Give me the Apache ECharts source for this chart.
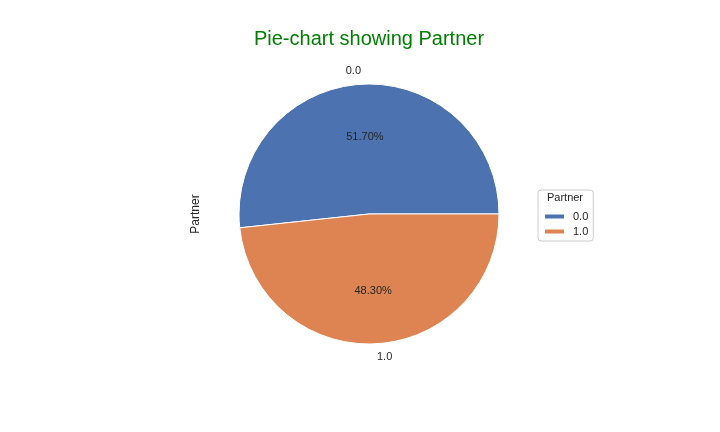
<!DOCTYPE html>
<html><head><meta charset="utf-8">
<script src="https://cdn.jsdelivr.net/npm/echarts@6/dist/echarts.min.js"></script>
<style>html,body{margin:0;padding:0;background:#fff}#c{width:720px;height:432px}</style>
</head><body><div id="c"></div>
<script>
const categories = ['0.0', '1.0'];
const counts = [3641, 3402];
const colors = ['#4c72b0', '#dd8452'];
const titleText = 'Pie-chart showing Partner';
const legendTitle = 'Partner';
const axisLabel = 'Partner';

const total = counts.reduce((a, b) => a + b, 0);
const FONT = 'Liberation Sans, Arial, sans-serif';
const C = [369, 214], R = 130;

const mainData = categories.map((c, i) => ({ name: c, value: counts[i], itemStyle: { color: colors[i] } }));
const ghost = categories.map((c, i) => ({
  name: c, value: counts[i], itemStyle: { color: 'transparent' },
  label: { padding: i === 0 ? [3, 0, 0, 0] : [7, 0, 0, 0] }
}));
const outerData = categories.map((c, i) => ({
  name: c, value: counts[i], itemStyle: { color: 'transparent' },
  label: { padding: i === 0 ? [3, 16, 0, 0] : [6, 0, 0, 16] }
}));

const chart = echarts.init(document.getElementById('c'));
chart.setOption({
  animation: false,
  backgroundColor: '#fff',
  legend: {
    orient: 'vertical', left: 538, top: 190,
    data: categories,
    padding: [21, 5, 4, 5], itemGap: 4,
    itemWidth: 21, itemHeight: 6, icon: 'rect',
    borderColor: '#cccccc', borderWidth: 1, borderRadius: 3,
    backgroundColor: '#fff',
    textStyle: { fontSize: 11, color: '#262626', fontFamily: FONT, padding: [0, 0, 0, 3] }
  },
  graphic: [
    { type: 'text', x: 565, y: 198, z: 100,
      style: { text: legendTitle, fill: '#262626', font: '11px ' + FONT, align: 'center', verticalAlign: 'middle' } },
    { type: 'text', x: 369, y: 39, z: 100,
      style: { text: titleText, fill: '#008000', font: '20px ' + FONT, align: 'center', verticalAlign: 'middle' } },
    { type: 'text', x: 196, y: 214, rotation: Math.PI / 2,
      style: { text: axisLabel, fill: '#262626', font: '12px ' + FONT, align: 'center', verticalAlign: 'middle' } }
  ],
  series: [
    {
      type: 'pie', center: C, radius: [0, R], startAngle: 0, clockwise: false,
      data: mainData, silent: true,
      itemStyle: { borderColor: '#fff', borderWidth: 1 },
      label: { show: false }, labelLine: { show: false }
    },
    {
      type: 'pie', center: C, radius: [0, 149], startAngle: 0, clockwise: false,
      data: ghost, silent: true, legendHoverLink: false,
      label: {
        show: true, position: 'inside', fontSize: 11, color: '#262626', fontFamily: FONT,
        formatter: p => (p.value / total * 100).toFixed(2) + '%'
      },
      labelLine: { show: false }
    },
    {
      type: 'pie', center: C, radius: [0, 280], startAngle: 0, clockwise: false,
      data: outerData, silent: true, legendHoverLink: false,
      label: {
        show: true, position: 'inside', fontSize: 11, color: '#262626', fontFamily: FONT,
        formatter: p => p.name
      },
      labelLine: { show: false }
    }
  ]
});
</script></body></html>
